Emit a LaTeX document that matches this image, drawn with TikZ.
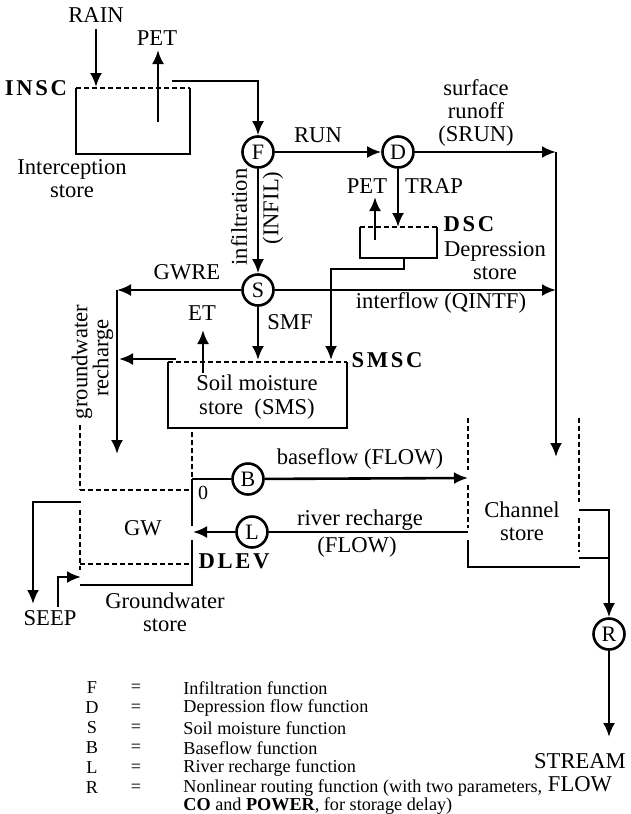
\documentclass[tikz,border=0pt]{standalone}
\usepackage{fontspec}
\setmainfont{Liberation Serif}
\newfontfamily\spbold[LetterSpace=12]{Liberation Serif}
\usetikzlibrary{arrows.meta}
\tikzset{
  ln/.style={line width=1.3pt},
  arr/.style={ln,-{Latex[length=7pt,width=6pt]}},
  dsh/.style={line width=1pt,dash pattern=on 2.5pt off 1.5pt},
  fn/.style={circle,draw,line width=1.3pt,minimum size=15.5pt,inner sep=0pt,font=\fontsize{11}{12}\selectfont},
  lbl/.style={font=\fontsize{11.3}{11.6}\selectfont,inner sep=0pt,align=center},
  blbl/.style={font=\fontsize{11.3}{12}\spbold\bfseries,inner sep=0pt},
  leg/.style={font=\fontsize{9.1}{11}\selectfont,inner sep=0pt,anchor=west},
  legc/.style={font=\fontsize{9.1}{11}\selectfont,inner sep=0pt},
}
\begin{document}
\begin{tikzpicture}[x=0.5pt,y=-0.5pt]
\useasboundingbox (0,0) rectangle (631,814);
% ---------------- interception store
\node[lbl] (rain) at (96,15) {RAIN};
\coordinate (rainT) at (96,87);
\draw[arr,shorten <=3pt] (rain.south) -- (rainT);
\draw[ln] (76,88) -- (76,154) -- (190,154) -- (190,88);
\draw[dsh] (76,88) -- (190,88);
\node[blbl] (insc) at (36,88) {INSC};
\node[lbl] (intc) at (72,179) {Interception\\store};
\node[lbl] (pet1) at (157,38) {PET};
\coordinate (pet1a) at (158,122);
\coordinate (pet1b) at (158,50);
\draw[arr] (pet1a) -- (pet1b);
% ---------------- function circles
\node[fn] (F) at (258,152) {F};
\node[fn] (D) at (398,152) {D};
\node[fn] (S) at (258,290) {S};
\node[fn] (B) at (248,479) {B};
\node[fn] (L) at (252,532) {L};
\node[fn] (R) at (609,634) {R};
\coordinate (insOut) at (172,81);
\draw[arr] (insOut) -| (F.north);
\draw[arr] (F) -- (D);
\node[lbl] (run) at (318,135) {RUN};
\coordinate (srunC) at (556,152);
\coordinate (chIn) at (556,457);
\draw[arr] (D) -- (srunC);
\draw[arr] (srunC) -- (chIn);
\node[lbl] (srun) at (476,113) {surface\\runoff\\(SRUN)};
% ---------------- depression store
\draw[ln] (360,227) -- (360,258) -- (437,258) -- (437,227);
\draw[dsh] (360,227) -- (437,227);
\coordinate (dscTop) at (398,227);
\draw[arr] (D) -- (dscTop);
\node[lbl] (pet2) at (367,186) {PET};
\node[lbl] (trap) at (434,186) {TRAP};
\coordinate (pet2a) at (375,240);
\coordinate (pet2b) at (375,197);
\draw[arr] (pet2a) -- (pet2b);
\node[blbl] (dsc) at (469,224) {DSC};
\node[lbl] (dep) at (495,261) {Depression\\store};
\coordinate (dscOut) at (404,258);
\coordinate (smsIn2) at (331,360);
\draw[arr] (dscOut) -- (404,269) -| (smsIn2);
% ---------------- soil moisture
\draw[arr] (F) -- (S);
\node[lbl,rotate=90] (infil1) at (239,217) {infiltration};
\node[lbl,rotate=90] (infil2) at (273,208) {(INFIL)};
\coordinate (gwreC) at (117,290);
\coordinate (gwIn) at (117,454);
\draw[arr] (S) -- (gwreC);
\draw[arr] (gwreC) -- (gwIn);
\node[lbl] (gwre) at (187,272) {GWRE};
\coordinate (ifC) at (556,290);
\draw[arr] (S) -- (ifC);
\node[lbl] (intf) at (441,303) {interflow (QINTF)};
\coordinate (smsIn1) at (258,360);
\draw[arr] (S) -- (smsIn1);
\node[lbl] (smf) at (290,322) {SMF};
\draw[ln] (168,362) -- (168,428) -- (347,428) -- (347,362);
\draw[dsh] (168,362) -- (347,362);
\node[lbl] (sms) at (257,397) {Soil moisture\\store~~(SMS)};
\node[blbl] (smsc) at (387,360) {SMSC};
\coordinate (etA) at (203,373);
\coordinate (etB) at (203,330);
\draw[arr] (etA) -- (etB);
\node[lbl] (et) at (202,313) {ET};
\coordinate (smsL) at (176,359);
\coordinate (grC) at (119,359);
\draw[arr] (smsL) -- (grC);
\node[lbl,rotate=90] (gr1) at (82,362) {groundwater};
\node[lbl,rotate=90] (gr2) at (103,358) {recharge};
% ---------------- groundwater store
\draw[dsh] (80,425) -- (80,490);
\draw[dsh] (80,510) -- (80,570);
\draw[dsh] (80,490) -- (193,490);
\draw[dsh] (80,564) -- (193,564);
\draw[ln] (80,585) -- (193,585);
\draw[dsh] (192,432) -- (192,478);
\draw[ln] (192,479) -- (192,526);
\draw[ln] (192,540) -- (192,585);
\node[lbl] (gw) at (143,528) {GW};
\node[blbl] (dlev) at (234,561) {DLEV};
\node[lbl,font=\fontsize{10}{11}\selectfont] (zero) at (203,493) {0};
\node[lbl] (gws) at (165,612) {Groundwater\\store};
\node[lbl] (seep) at (50,618) {SEEP};
\coordinate (seepO) at (81,502);
\coordinate (seepEnd) at (33,604);
\draw[arr] (seepO) -| (seepEnd);
\coordinate (seepI) at (58,607);
\coordinate (gwSeep) at (81,577);
\draw[arr] (seepI) |- (gwSeep);
% ---------------- baseflow and river recharge
\coordinate (bL) at (192,479);
\coordinate (chB) at (468,478);
\draw[ln] (bL) -- (B);
\draw[arr] (B) -- (chB);
\node[lbl] (bfl) at (360,459) {baseflow (FLOW)};
\coordinate (chL) at (468,532);
\coordinate (gwR) at (193,532);
\draw[ln] (chL) -- (L);
\draw[arr] (L) -- (gwR);
\node[lbl] (rr1) at (360,520) {river recharge};
\node[lbl] (rr2) at (357,547) {(FLOW)};
% ---------------- channel store
\draw[dsh] (468,418) -- (468,470);
\draw[dsh] (468,485) -- (468,528);
\draw[ln] (468,540) -- (468,567) -- (580,567);
\draw[dsh] (579,418) -- (579,502);
\draw[dsh] (579,518) -- (579,552);
\node[lbl] (chs) at (522,521) {Channel\\store};
\coordinate (chOut) at (579,510);
\draw[arr] (chOut) -| (R.north);
\coordinate (chOut2) at (579,558);
\coordinate (chOut2b) at (609,558);
\draw[ln] (chOut2) -- (chOut2b);
\node[lbl] (sf) at (580,773) {STREAM\\FLOW};
\coordinate (sfT) at (609,737);
\draw[arr] (R) -- (sfT);
% ---------------- legend
\foreach \y/\a/\t in {688/F/Infiltration function,
                      708/D/Depression flow function,
                      728/S/Soil moisture function,
                      748/B/Baseflow function,
                      768/L/River recharge function,
                      788/R/{Nonlinear routing function (with two parameters,}}{
  \node[legc] at (92,\y) {\a};
  \node[legc] at (136,\y) {=};
  \node[leg] at (183,\y) {\t};
}
\node[leg] (lastline) at (183,806) {\textbf{CO} and \textbf{POWER}, for storage delay)};
\end{tikzpicture}
\end{document}
